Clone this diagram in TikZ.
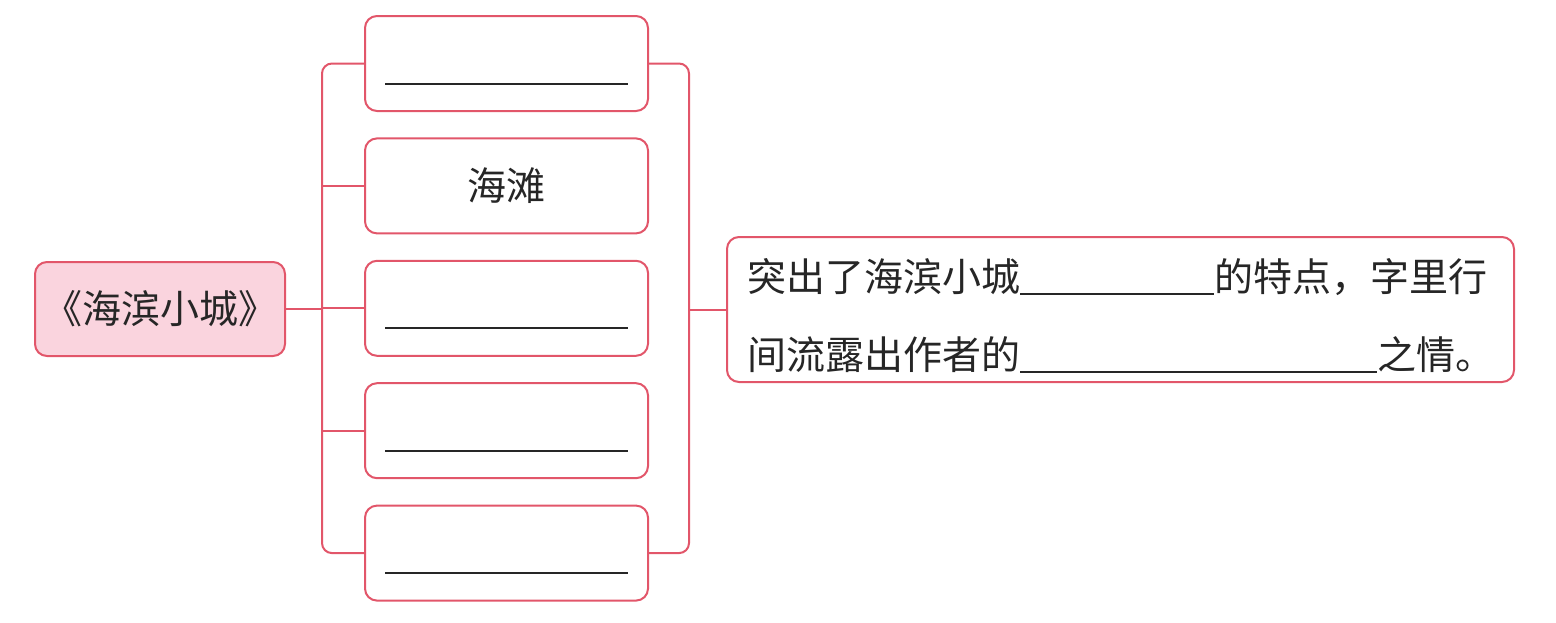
\documentclass[tikz,border=0pt]{standalone}
\usepackage{fontspec}
\setmainfont{Noto Sans CJK SC}
\usepackage{xcolor}
\usepackage{tikz}
\usetikzlibrary{positioning, calc}

\definecolor{mapred}{RGB}{226,86,106}
\definecolor{rootpink}{RGB}{250,212,222}
\definecolor{inkgray}{RGB}{38,38,38}

\begin{document}
\begin{tikzpicture}[x=0.5pt, y=-0.5pt,
		box/.style={draw=mapred, line width=1pt, rounded corners=6pt, fill=white, text=inkgray, font=\fontsize{19.5}{39}\selectfont},
		leaf/.style={box, minimum width=141.5pt, minimum height=47.5pt},
		link/.style={draw=mapred, line width=1pt},
		blank/.style={draw=inkgray, line width=1pt}]
				\useasboundingbox (0,0) rectangle (1556,622);
				% root and the five branches
				\node[box, fill=rootpink, minimum width=125pt, minimum height=47pt] (root) at (160,309) {《海滨小城》};
				\node[leaf] (b1) at (506.5,63.5) {};
				\node[leaf, below=12.7pt of b1] (b2) {海滩};
				\node[leaf, below=12.7pt of b2] (b3) {};
				\node[leaf, below=12.7pt of b3] (b4) {};
				\node[leaf, below=12.7pt of b4] (b5) {};
				\node[box, minimum width=393.5pt, minimum height=72.5pt, align=left] (note) at (1120.5,309.5)
					{\rule{0pt}{23pt}突出了海滨小城\rule[-1.5pt]{97pt}{1pt}的特点，字里行\\间流露出作者的\rule[-1.5pt]{178.5pt}{1pt}之情。};
				\coordinate (lbar) at (322,309);
				\coordinate (rbar) at (689,309);
				% brackets
				\draw[link, rounded corners=5pt] (b1.west) -- (b1.west -| lbar) -- (b5.west -| lbar) -- (b5.west);
				\draw[link, rounded corners=5pt] (b1.east) -- (b1.east -| rbar) -- (b5.east -| rbar) -- (b5.east);
				\foreach \i in {2,3,4}
					\draw[link] (b\i.west) -- (b\i.west -| lbar);
				\draw[link] (root.east) -- (root.east -| lbar);
				\draw[link] (note.west -| rbar) -- (note.west);
				% answer lines
				\foreach \i in {1,3,4,5}
					\draw[blank] ([xshift=10.5pt, yshift=-10pt]b\i.west) -- ([xshift=-10.5pt, yshift=-10pt]b\i.east);
			\end{tikzpicture}
\end{document}
